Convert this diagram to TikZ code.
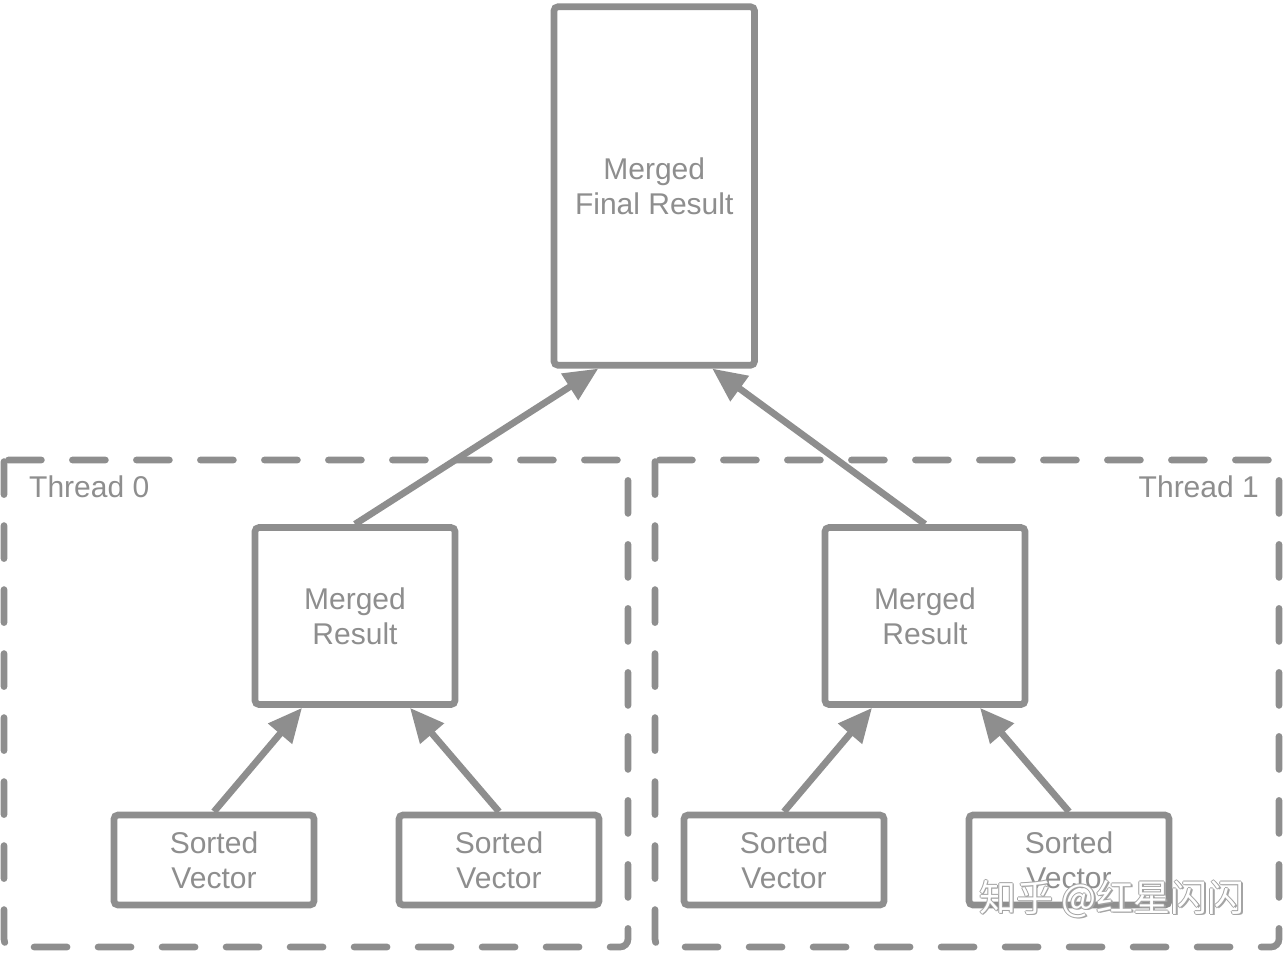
\documentclass[tikz,border=0pt]{standalone}
\usepackage{fontspec}
\setmainfont{Liberation Sans}
\newfontfamily\cjkfont{Noto Sans CJK SC}
\usetikzlibrary{arrows.meta}
\definecolor{ln}{RGB}{142,142,142}
\begin{document}
\begin{tikzpicture}[x=1pt,y=-1pt,
  box/.style={draw=ln, line width=6.7pt, rounded corners=4pt, text=ln, align=center,
    font=\fontsize{30}{35}\selectfont, inner sep=0pt},
  arr/.style={draw=ln, line width=6.7pt, -{Triangle[length=34pt,width=30pt]}},
  threadframe/.style={draw=ln, line width=6.7pt, line cap=round,
    dash pattern=on 33pt off 31pt, dash phase=59.6pt},
  lbl/.style={text=ln, font=\fontsize{30}{35}\selectfont, inner sep=0pt},
  wm/.style={font=\cjkfont\fontsize{37}{42}\selectfont, inner sep=0pt}]
\useasboundingbox[fill=white] (0,0) rectangle (1284,954);

% thread frames
\draw[threadframe] (4,460) -- (628,460) [rounded corners=8pt] -- (628,947) -- (4,947) -- (4,460);
\draw[threadframe] (655,460) -- (1279,460) [rounded corners=8pt] -- (1279,947) -- (655,947) -- (655,460);
\node[lbl, anchor=base west] (t0) at (29,497) {Thread 0};
\node[lbl, anchor=base east] (t1) at (1259,497) {Thread 1};

% boxes
\node[box, minimum width=200.5pt, minimum height=358.5pt] (final) at (654.25,186) {Merged\\Final Result};
\node[box, minimum width=200pt, minimum height=177pt] (mr1) at (355,616) {Merged\\Result};
\node[box, minimum width=200pt, minimum height=177pt] (mr2) at (925,616) {Merged\\Result};
\node[box, minimum width=200pt, minimum height=90pt] (sv1) at (214,860) {Sorted\\Vector};
\node[box, minimum width=200pt, minimum height=90pt] (sv2) at (499,860) {Sorted\\Vector};
\node[box, minimum width=200pt, minimum height=90pt] (sv3) at (784,860) {Sorted\\Vector};
\node[box, minimum width=200pt, minimum height=90pt] (sv4) at (1069,860) {Sorted\\Vector};

% arrows
\draw[arr] (mr1.north) -- ([xshift=-56pt]final.south);
\draw[arr] (mr2.north) -- ([xshift=58pt]final.south);
\draw[arr] (sv1.north) -- ([xshift=-53pt]mr1.south);
\draw[arr] (sv2.north) -- ([xshift=55pt]mr1.south);
\draw[arr] (sv3.north) -- ([xshift=-53pt]mr2.south);
\draw[arr] (sv4.north) -- ([xshift=55pt]mr2.south);

% watermark
\foreach \dx/\dy [count=\i] in {-1.2/0,1.2/0,0/-1.2,0/1.2,1.5/1.5}
  \node[wm, text=ln!80] (wms\i) at (1112+\dx,899+\dy) {知乎 @红星闪闪};
\node[wm, text=white] (wm) at (1112,899) {知乎 @红星闪闪};
\end{tikzpicture}
\end{document}
